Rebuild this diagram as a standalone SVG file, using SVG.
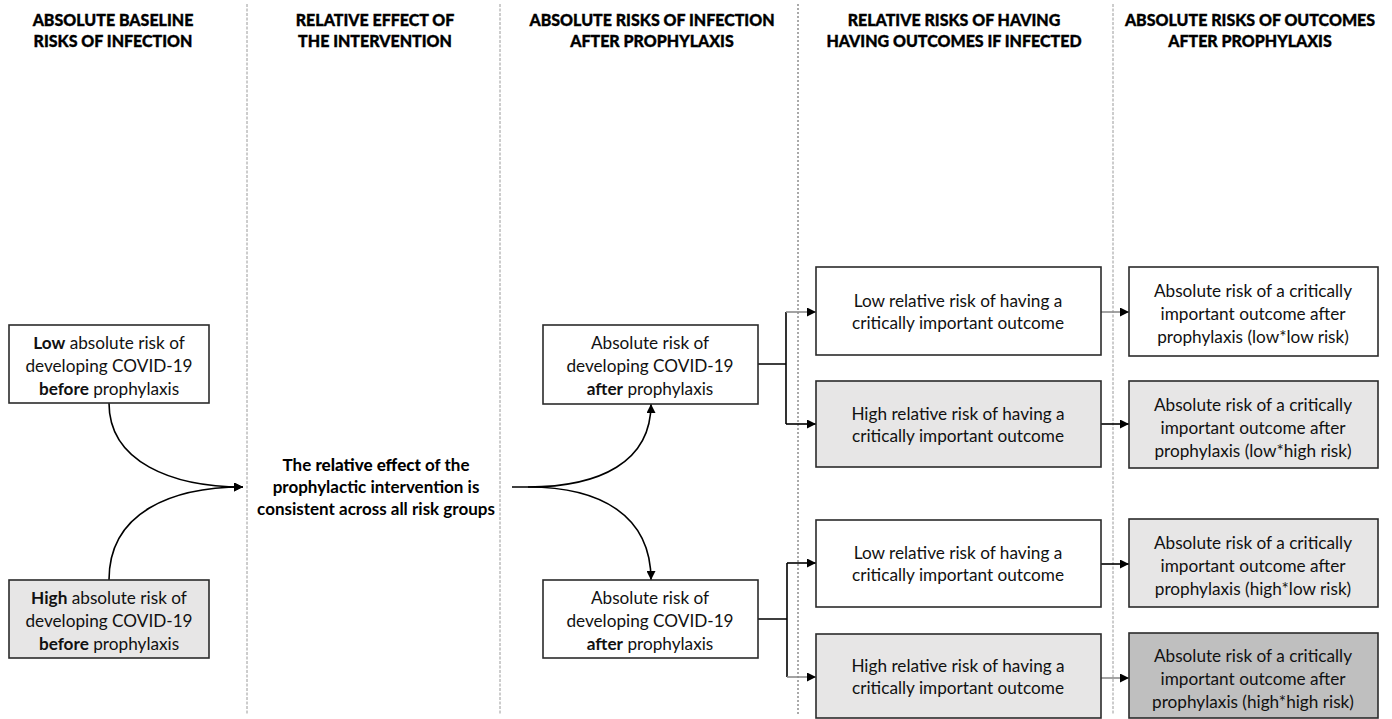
<svg xmlns="http://www.w3.org/2000/svg" width="1392" height="719" viewBox="0 0 1392 719">
<defs>
<style>
.hdr{font-family:Lato,"Liberation Sans",sans-serif;font-weight:900;font-size:16px;fill:#000;stroke:#000;stroke-width:0.35;text-anchor:middle}
.t{font-family:Lato,"Liberation Sans",sans-serif;font-size:17.2px;fill:#111;text-anchor:middle}
.b{font-weight:bold}
.mid{font-family:Lato,"Liberation Sans",sans-serif;font-size:17px;font-weight:bold;fill:#000;text-anchor:middle}
.box{stroke:#2b2b2b;stroke-width:1.6}
.w{fill:#fff}
.g{fill:#e7e6e6}
.d{fill:#bfbfbf}
.div{stroke:#9a9a9a;stroke-width:1;stroke-dasharray:3 1.5;fill:none}
.div2{stroke:#555;stroke-width:1;stroke-dasharray:2 2;fill:none}
.ln{stroke:#000;stroke-width:1.6;fill:none}
.lg{stroke:#8c8c8c;stroke-width:1.6;fill:none}
</style>
<marker id="ah" viewBox="0 0 10 10" refX="10" refY="5" markerWidth="9" markerHeight="9" markerUnits="userSpaceOnUse" orient="auto">
<path d="M0,0 L10,5 L0,10 z" fill="#000"/>
</marker>
</defs>
<rect width="1392" height="719" fill="#fff"/>

<g id="dividers">
<line class="div" x1="247" y1="4" x2="247" y2="714"/>
<line class="div" x1="500" y1="4" x2="500" y2="714"/>
<line class="div2" x1="798" y1="4" x2="798" y2="714"/>
<line class="div" x1="1113" y1="4" x2="1113" y2="714"/>
</g>

<g id="headers">
<text class="hdr" x="113" y="26">ABSOLUTE BASELINE</text>
<text class="hdr" x="113" y="47">RISKS OF INFECTION</text>
<text class="hdr" x="375" y="26">RELATIVE EFFECT OF</text>
<text class="hdr" x="375" y="47">THE INTERVENTION</text>
<text class="hdr" x="652" y="26">ABSOLUTE RISKS OF INFECTION</text>
<text class="hdr" x="652" y="47">AFTER PROPHYLAXIS</text>
<text class="hdr" x="954" y="26">RELATIVE RISKS OF HAVING</text>
<text class="hdr" x="954" y="47">HAVING OUTCOMES IF INFECTED</text>
<text class="hdr" x="1250" y="26">ABSOLUTE RISKS OF OUTCOMES</text>
<text class="hdr" x="1250" y="47">AFTER PROPHYLAXIS</text>
</g>

<g id="connectors">
<path class="ln" d="M109,403 C109,462 172,487 243,487" marker-end="url(#ah)"/>
<path class="ln" d="M109,580 C109,512 172,487 243,487" marker-end="url(#ah)"/>
<path class="ln" d="M512,487 L528,487 C600,487 651,462 651,404" marker-end="url(#ah)"/>
<path class="ln" d="M528,487 C600,487 651,515 651,580" marker-end="url(#ah)"/>
<path class="ln" d="M758,364 L786,364 M786,312 L786,424"/>
<path class="lg" d="M786,312 L816,312" marker-end="url(#ah)"/>
<path class="ln" d="M786,424 L816,424" marker-end="url(#ah)"/>
<path class="ln" d="M758,619 L787,619 M787,563 L787,677"/>
<path class="ln" d="M787,563 L816,563" marker-end="url(#ah)"/>
<path class="lg" d="M787,677 L816,677" marker-end="url(#ah)"/>
<path class="lg" d="M1101,312 L1129,312" marker-end="url(#ah)"/>
<path class="ln" d="M1101,424 L1129,424" marker-end="url(#ah)"/>
<path class="ln" d="M1101,564 L1129,564" marker-end="url(#ah)"/>
<path class="lg" d="M1101,678 L1129,678" marker-end="url(#ah)"/>
</g>

<g id="low-baseline">
<rect class="box w" x="9" y="325" width="200" height="78"/>
<text class="t" x="109" y="349"><tspan class="b">Low</tspan> absolute risk of</text>
<text class="t" x="109" y="372">developing COVID-19</text>
<text class="t" x="109" y="395"><tspan class="b">before</tspan> prophylaxis</text>
</g>

<g id="high-baseline">
<rect class="box g" x="9" y="580" width="200" height="78"/>
<text class="t" x="109" y="604"><tspan class="b">High</tspan> absolute risk of</text>
<text class="t" x="109" y="627">developing COVID-19</text>
<text class="t" x="109" y="650"><tspan class="b">before</tspan> prophylaxis</text>
</g>

<g id="relative-effect">
<text class="mid" x="376" y="471">The <tspan font-weight="900">relative effect</tspan> of the</text>
<text class="mid" x="376" y="493">prophylactic intervention is</text>
<text class="mid" x="376" y="515">consistent across all risk groups</text>
</g>

<g id="after-upper">
<rect class="box w" x="543" y="325" width="215" height="79"/>
<text class="t" x="650" y="349">Absolute risk of</text>
<text class="t" x="650" y="372">developing COVID-19</text>
<text class="t" x="650" y="395"><tspan class="b">after</tspan> prophylaxis</text>
</g>

<g id="after-lower">
<rect class="box w" x="543" y="580" width="215" height="78"/>
<text class="t" x="650" y="604">Absolute risk of</text>
<text class="t" x="650" y="627">developing COVID-19</text>
<text class="t" x="650" y="650"><tspan class="b">after</tspan> prophylaxis</text>
</g>

<g id="rr-low-1">
<rect class="box w" x="816" y="267" width="285" height="88"/>
<text class="t" x="958" y="307">Low relative risk of having a</text>
<text class="t" x="958" y="329">critically important outcome</text>
</g>
<g id="rr-high-1">
<rect class="box g" x="816" y="381" width="285" height="86"/>
<text class="t" x="958" y="420">High relative risk of having a</text>
<text class="t" x="958" y="442">critically important outcome</text>
</g>
<g id="rr-low-2">
<rect class="box w" x="816" y="520" width="285" height="87"/>
<text class="t" x="958" y="559">Low relative risk of having a</text>
<text class="t" x="958" y="581">critically important outcome</text>
</g>
<g id="rr-high-2">
<rect class="box g" x="816" y="634" width="285" height="84"/>
<text class="t" x="958" y="672">High relative risk of having a</text>
<text class="t" x="958" y="694">critically important outcome</text>
</g>

<g id="out-ll">
<rect class="box w" x="1129" y="267" width="249" height="89"/>
<text class="t" x="1253" y="297">Absolute risk of a critically</text>
<text class="t" x="1253" y="320">important outcome after</text>
<text class="t" x="1253" y="343">prophylaxis (low*low risk)</text>
</g>
<g id="out-lh">
<rect class="box g" x="1129" y="381" width="249" height="87"/>
<text class="t" x="1253" y="411">Absolute risk of a critically</text>
<text class="t" x="1253" y="434">important outcome after</text>
<text class="t" x="1253" y="457">prophylaxis (low*high risk)</text>
</g>
<g id="out-hl">
<rect class="box g" x="1129" y="519" width="249" height="88"/>
<text class="t" x="1253" y="549">Absolute risk of a critically</text>
<text class="t" x="1253" y="572">important outcome after</text>
<text class="t" x="1253" y="595">prophylaxis (high*low risk)</text>
</g>
<g id="out-hh">
<rect class="box d" x="1129" y="633" width="249" height="85"/>
<text class="t" x="1253" y="662">Absolute risk of a critically</text>
<text class="t" x="1253" y="685">important outcome after</text>
<text class="t" x="1253" y="708">prophylaxis (high*high risk)</text>
</g>
</svg>
